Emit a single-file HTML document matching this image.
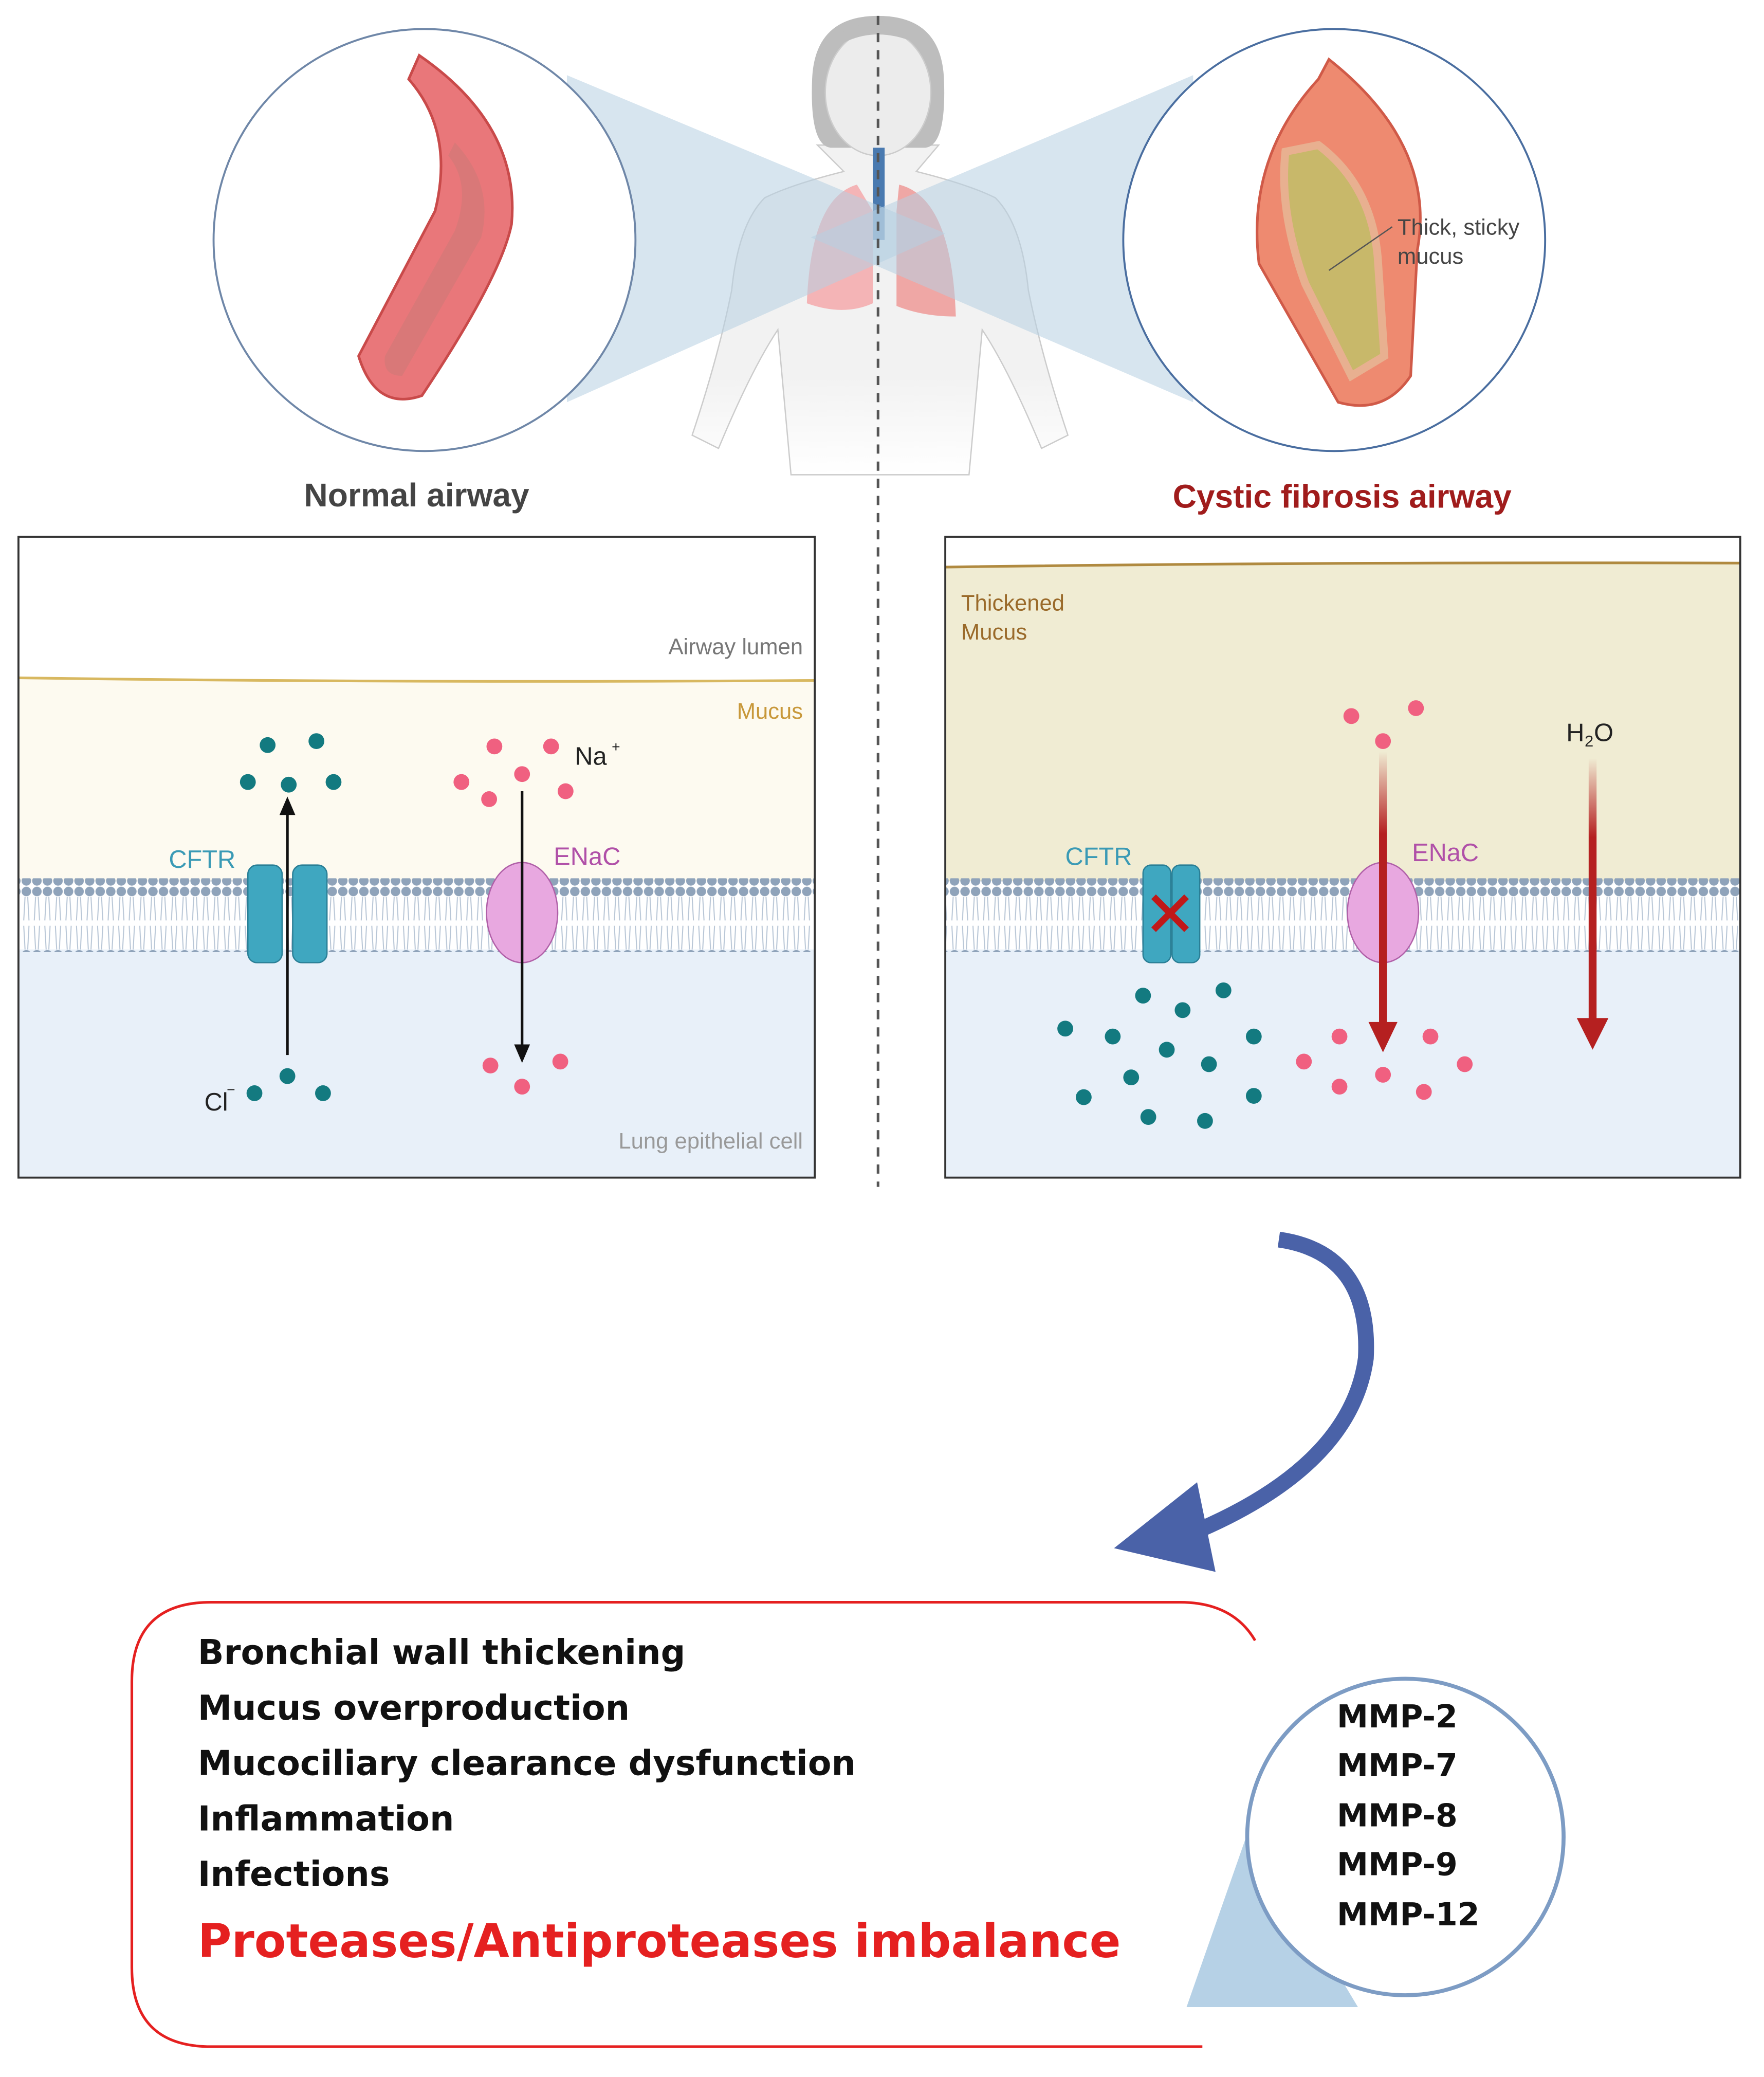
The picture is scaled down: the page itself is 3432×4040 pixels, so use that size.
<!DOCTYPE html>
<html><head><meta charset="utf-8"><style>html,body{margin:0;padding:0;background:#fff}svg{display:block}</style></head><body>
<svg width="3432" height="4040" viewBox="0 0 1338 1575" xmlns="http://www.w3.org/2000/svg" font-family="Liberation Sans, sans-serif">
<defs>
<pattern id="mem" x="0" y="0" width="8" height="56" patternUnits="userSpaceOnUse">
<circle cx="4" cy="4" r="3.6" fill="#8fa3ba"/><circle cx="4" cy="52" r="3.6" fill="#8fa3ba"/>
<path d="M3 8 L2 26 M5 8 L6 26 M3 48 L2 30 M5 48 L6 30" stroke="#b8c6d6" stroke-width="0.8"/>
</pattern>
<linearGradient id="rg" x1="0" y1="0" x2="0" y2="1"><stop offset="0" stop-color="#b52020" stop-opacity="0"/><stop offset="0.3" stop-color="#b52020"/></linearGradient>
<linearGradient id="bodyfade" x1="0" y1="0" x2="0" y2="1"><stop offset="0.7" stop-color="#f2f2f2"/><stop offset="1" stop-color="#fff"/></linearGradient>
</defs>
<!-- body -->
<path d="M620 110 L640 130 Q600 140 580 150 Q560 170 555 220 Q545 270 525 330 L545 340 Q570 280 590 250 L600 360 L735 360 L745 250 Q765 280 790 340 L810 330 Q790 270 780 220 Q775 170 755 150 Q735 140 695 130 L712 110 Z" fill="url(#bodyfade)" stroke="#ccc" stroke-width="1"/>
<path d="M666 12 Q618 12 616 60 Q614 110 630 112 L702 112 Q718 110 716 60 Q714 12 666 12Z" fill="#bdbdbd"/>
<ellipse cx="666" cy="70" rx="40" ry="48" fill="#ececec" stroke="#ccc"/>
<path d="M628 40 Q660 15 700 35 L700 25 Q666 5 630 30Z" fill="#bdbdbd"/>
<!-- lungs -->
<path d="M650 140 Q615 150 612 230 Q640 240 662 230 L662 160Z" fill="#f4a9ab" opacity="0.85"/>
<path d="M682 140 Q722 150 725 240 Q700 240 680 232 L680 160Z" fill="#ee9a98" opacity="0.85"/>
<rect x="662" y="112" width="9" height="70" fill="#4a7ab0"/>
<!-- cones -->
<polygon points="430,57 717,177 430,305" fill="#b6d0e2" opacity="0.55"/>
<polygon points="905,57 615,180 905,305" fill="#b6d0e2" opacity="0.55"/>
<!-- circles -->
<circle cx="322" cy="182" r="160" fill="#fff" stroke="#6f87a8" stroke-width="1.5"/>
<circle cx="1012" cy="182" r="160" fill="#fff" stroke="#4a6ea0" stroke-width="1.5"/>
<!-- normal airway -->
<path d="M318 42 Q395 95 388 170 Q380 210 320 300 Q285 312 272 270 L330 160 Q345 100 310 60Z" fill="#e9777a" stroke="#c94a4a" stroke-width="2"/>
<path d="M345 108 Q375 140 365 180 L305 285 Q290 285 292 270 L345 175 Q358 140 340 118Z" fill="#d97878"/>
<!-- CF airway -->
<path d="M1008 45 Q1090 110 1075 190 L1070 285 Q1050 315 1015 305 L955 200 Q945 120 1000 60Z" fill="#ee8a70" stroke="#d05a48" stroke-width="2"/>
<path d="M975 115 L1000 110 Q1040 140 1045 195 L1050 270 L1025 285 L990 215 Q970 160 975 115Z" fill="#c8b86a" stroke="#e8b090" stroke-width="6"/>
<line x1="1008" y1="205" x2="1056" y2="172" stroke="#555" stroke-width="1"/>
<text x="1060" y="178" font-size="17" fill="#444">Thick, sticky</text>
<text x="1060" y="200" font-size="17" fill="#444">mucus</text>
<!-- dashed -->
<line x1="666" y1="12" x2="666" y2="900" stroke="#555" stroke-width="2" stroke-dasharray="7,6"/>
<text x="316" y="384" font-size="25" font-weight="bold" fill="#444" text-anchor="middle">Normal airway</text>
<text x="1018" y="385" font-size="25" font-weight="bold" fill="#a01c1c" text-anchor="middle">Cystic fibrosis airway</text>
<!-- left box -->
<rect x="14" y="407" width="604" height="486" fill="#fff"/>
<path d="M14 514 Q300 518 618 516 L618 668 L14 668Z" fill="#fdfaf0"/>
<path d="M14 514 Q300 518 618 516" stroke="#d8b860" stroke-width="2" fill="none"/>
<rect x="14" y="720" width="604" height="173" fill="#e8f0f9"/>
<rect x="14" y="666" width="604" height="56" fill="url(#mem)"/>
<rect x="14" y="407" width="604" height="486" fill="none" stroke="#333" stroke-width="1.5"/>
<text x="609" y="496" font-size="17" fill="#777" text-anchor="end">Airway lumen</text>
<text x="609" y="545" font-size="17" fill="#c8983a" text-anchor="end">Mucus</text>
<text x="609" y="871" font-size="17" fill="#999" text-anchor="end">Lung epithelial cell</text>
<rect x="188" y="656" width="26" height="74" rx="7" fill="#3fa7c0" stroke="#2a7f96"/>
<rect x="222" y="656" width="26" height="74" rx="7" fill="#3fa7c0" stroke="#2a7f96"/>
<text x="128" y="658" font-size="19" fill="#3a9ab5">CFTR</text>
<line x1="218" y1="800" x2="218" y2="615" stroke="#111" stroke-width="2"/>
<polygon points="212,618 224,618 218,604" fill="#111"/>
<ellipse cx="396" cy="692" rx="27" ry="38" fill="#e8a8e0" stroke="#b060a8"/>
<text x="420" y="656" font-size="19" fill="#b050a8">ENaC</text>
<line x1="396" y1="600" x2="396" y2="794" stroke="#111" stroke-width="2"/>
<polygon points="390,792 402,792 396,806" fill="#111"/>
<g fill="#137a80"><circle cx="203" cy="565" r="6"/><circle cx="240" cy="562" r="6"/><circle cx="188" cy="593" r="6"/><circle cx="219" cy="595" r="6"/><circle cx="253" cy="593" r="6"/><circle cx="193" cy="829" r="6"/><circle cx="218" cy="816" r="6"/><circle cx="245" cy="829" r="6"/></g>
<text x="155" y="842" font-size="19" fill="#222">Cl</text><text x="172" y="830" font-size="11" fill="#222">−</text>
<g fill="#f06080"><circle cx="375" cy="566" r="6"/><circle cx="418" cy="566" r="6"/><circle cx="350" cy="593" r="6"/><circle cx="396" cy="587" r="6"/><circle cx="371" cy="606" r="6"/><circle cx="429" cy="600" r="6"/><circle cx="372" cy="808" r="6"/><circle cx="396" cy="824" r="6"/><circle cx="425" cy="805" r="6"/></g>
<text x="436" y="580" font-size="19" fill="#222">Na</text><text x="464" y="570" font-size="11" fill="#222">+</text>
<!-- right box -->
<rect x="717" y="407" width="603" height="486" fill="#fff"/>
<path d="M717 430 Q1000 426 1320 427 L1320 668 L717 668Z" fill="#f0ecd3"/>
<path d="M717 430 Q1000 426 1320 427" stroke="#b08a40" stroke-width="2" fill="none"/>
<rect x="717" y="720" width="603" height="173" fill="#e8f0f9"/>
<rect x="717" y="666" width="603" height="56" fill="url(#mem)"/>
<rect x="717" y="407" width="603" height="486" fill="none" stroke="#333" stroke-width="1.5"/>
<text x="729" y="463" font-size="17" fill="#9a6a2a">Thickened</text>
<text x="729" y="485" font-size="17" fill="#9a6a2a">Mucus</text>
<rect x="867" y="656" width="21" height="74" rx="6" fill="#3fa7c0" stroke="#2a7f96"/>
<rect x="889" y="656" width="21" height="74" rx="6" fill="#3fa7c0" stroke="#2a7f96"/>
<path d="M875 680 L900 705 M900 680 L875 705" stroke="#c01818" stroke-width="5"/>
<text x="808" y="656" font-size="19" fill="#3a9ab5">CFTR</text>
<ellipse cx="1049" cy="692" rx="27" ry="38" fill="#e8a8e0" stroke="#b060a8"/>
<text x="1071" y="653" font-size="19" fill="#b050a8">ENaC</text>
<rect x="1046" y="570" width="6" height="208" fill="url(#rg)"/>
<polygon points="1038,775 1060,775 1049,798" fill="#b52020"/>
<rect x="1205" y="575" width="6" height="200" fill="url(#rg)"/>
<polygon points="1196,772 1220,772 1208,796" fill="#b52020"/>
<text x="1188" y="562" font-size="19" fill="#222">H</text><text x="1202" y="566" font-size="12" fill="#222">2</text><text x="1209" y="562" font-size="19" fill="#222">O</text>
<g fill="#f06080"><circle cx="1025" cy="543" r="6"/><circle cx="1074" cy="537" r="6"/><circle cx="1049" cy="562" r="6"/><circle cx="989" cy="805" r="6"/><circle cx="1016" cy="786" r="6"/><circle cx="1016" cy="824" r="6"/><circle cx="1049" cy="815" r="6"/><circle cx="1085" cy="786" r="6"/><circle cx="1080" cy="828" r="6"/><circle cx="1111" cy="807" r="6"/></g>
<g fill="#137a80"><circle cx="867" cy="755" r="6"/><circle cx="928" cy="751" r="6"/><circle cx="808" cy="780" r="6"/><circle cx="844" cy="786" r="6"/><circle cx="897" cy="766" r="6"/><circle cx="885" cy="796" r="6"/><circle cx="951" cy="786" r="6"/><circle cx="917" cy="807" r="6"/><circle cx="858" cy="817" r="6"/><circle cx="822" cy="832" r="6"/><circle cx="871" cy="847" r="6"/><circle cx="914" cy="850" r="6"/><circle cx="951" cy="831" r="6"/></g>
<!-- curved arrow -->
<path d="M970 940 Q1040 950 1036 1030 Q1025 1110 910 1160" fill="none" stroke="#4a62a8" stroke-width="12"/>
<polygon points="845,1174 908,1124 922,1192" fill="#4a62a8"/>
<!-- bottom box -->
<path d="M952 1244 Q935 1215 895 1215 L160 1215 Q100 1215 100 1275 L100 1492 Q100 1552 160 1552 L912 1552" fill="none" stroke="#e52020" stroke-width="2"/>
<polygon points="948,1385 900,1522 1030,1522" fill="#a9c9e2" opacity="0.85"/>
<circle cx="1066" cy="1393" r="120" fill="#fff" stroke="#7d9cc4" stroke-width="3"/>
<g font-family="DejaVu Sans, Liberation Sans, sans-serif" font-weight="bold" font-size="24" fill="#111">
<text x="1014" y="1310">MMP-2</text><text x="1014" y="1347">MMP-7</text><text x="1014" y="1385">MMP-8</text><text x="1014" y="1422">MMP-9</text><text x="1014" y="1460">MMP-12</text>
</g>
<g font-family="DejaVu Sans, Liberation Sans, sans-serif" font-weight="bold" font-size="26" fill="#111">
<text x="150" y="1262">Bronchial wall thickening</text>
<text x="150" y="1304">Mucus overproduction</text>
<text x="150" y="1346">Mucociliary clearance dysfunction</text>
<text x="150" y="1388">Inflammation</text>
<text x="150" y="1430">Infections</text>
<text x="150" y="1484" font-size="35" fill="#e52020">Proteases/Antiproteases imbalance</text>
</g>
</svg>
</body></html>
